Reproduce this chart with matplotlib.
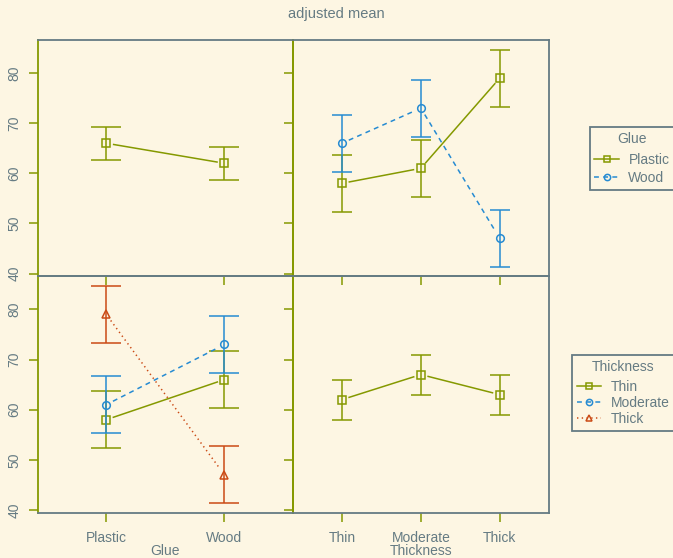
import matplotlib
matplotlib.use('Agg')
import matplotlib.pyplot as plt
import numpy as np
from matplotlib.lines import Line2D

# ---------------- data ----------------
glue = ['Plastic', 'Wood']
thickness = ['Thin', 'Moderate', 'Thick']
thickness_ticks = ['Thin', 'Moderate', 'Thick']

# main effects (adjusted means with interval)
glue_mean = [66, 62]
glue_lo = [62.7, 58.7]
glue_hi = [69.3, 65.3]

thick_mean = [62, 67, 63]
thick_lo = [58, 63, 59]
thick_hi = [66, 71, 67]

# cell means: rows = Glue (Plastic, Wood), cols = Thickness (Thin, Moderate, Thick)
cell_mean = [[58, 61, 79], [66, 73, 47]]
cell_lo = [[52.3, 55.3, 73.3], [60.3, 67.3, 41.3]]
cell_hi = [[63.7, 66.7, 84.7], [71.7, 78.7, 52.7]]

y_ticks = [40, 50, 60, 70, 80]

# ---------------- style ----------------
BG = '#FDF6E3'
TXT = '#657B83'
GRAY = '#657B83'
OLIVE = '#859900'
BLUE = '#268BD2'
ORANGE = '#CB4B16'
colors = [OLIVE, BLUE, ORANGE]
markers = ['s', 'o', '^']
dashes = ['-', (0, (3.2, 2.8)), (0, (0.9, 2.2))]
LW = 1.1
GAP = 7.5  # px gap between marker and connecting line

plt.rcParams['font.family'] = ['Liberation Sans', 'DejaVu Sans']
plt.rcParams['font.size'] = 10

W, H = 673, 558
fig = plt.figure(figsize=(W / 100, H / 100), dpi=100, facecolor=BG)

def rect(x0, y0, x1, y1):
    return [x0 / W, 1 - y1 / H, (x1 - x0) / W, (y1 - y0) / H]

XL, XM, XR = 37.7, 293, 548.7
YT, YM, YB = 40, 276.3, 512.7
YLIM = (39.45, 86.6)

ax_tl = fig.add_axes(rect(XL, YT, XM, YM))
ax_tr = fig.add_axes(rect(XM, YT, XR, YM))
ax_bl = fig.add_axes(rect(XL, YM, XM, YB))
ax_br = fig.add_axes(rect(XM, YM, XR, YB))

def setup(ax, n, left, bottom):
    ax.patch.set_visible(False)
    ax.set_autoscale_on(False)
    x = np.arange(1, n + 1)
    pad = 0.58 if n == 2 else 0.62
    ax.set_xlim(1 - pad, n + pad)
    ax.set_ylim(*YLIM)
    ax.set_xticks(x)
    ax.set_yticks(y_ticks)
    ax.tick_params(direction='out', length=6.5, width=LW, color=OLIVE,
                   labelcolor=TXT, labelsize=10)
    ax.tick_params(axis='y', pad=5)
    ax.tick_params(axis='x', pad=7)
    for s in ['top', 'bottom']:
        ax.spines[s].set_color(GRAY)
        ax.spines[s].set_linewidth(1.3)
    ax.spines['left'].set_color(OLIVE)
    ax.spines['left'].set_linewidth(1.3)
    ax.spines['right'].set_color(OLIVE if left else GRAY)
    ax.spines['right'].set_linewidth(1.3)
    if left:
        ax.set_yticklabels([str(v) for v in y_ticks])
        for lab in ax.get_yticklabels():
            lab.set_rotation(90)
            lab.set_va('center')
    else:
        ax.set_yticklabels([])
    if not bottom:
        ax.set_xticklabels([])

setup(ax_tl, 2, True, False)
setup(ax_tr, 3, False, False)
setup(ax_bl, 2, True, True)
setup(ax_br, 3, False, True)

ax_bl.set_xticklabels(glue)
ax_br.set_xticklabels(thickness_ticks)
ax_bl.set_xlabel('Glue', color=TXT, fontsize=10, labelpad=-1)
ax_br.set_xlabel('Thickness', color=TXT, fontsize=10, labelpad=-1)


def draw_series(ax, ys, lo, hi, color, marker, ls, capsize):
    ys = np.asarray(ys, float)
    lo = np.asarray(lo, float)
    hi = np.asarray(hi, float)
    xs = np.arange(1, len(ys) + 1, dtype=float)
    ax.errorbar(xs, ys, yerr=[ys - lo, hi - ys], fmt='none', ecolor=color,
                elinewidth=LW, capsize=capsize, capthick=LW)
    ax.plot(xs, ys, ls='none', marker=marker, mfc='none', mec=color,
            ms=5.5, mew=LW)
    pts = ax.transData.transform(np.column_stack([xs, ys]))
    inv = ax.transData.inverted()
    for i in range(len(pts) - 1):
        p0, p1 = pts[i], pts[i + 1]
        d = p1 - p0
        u = d / np.hypot(*d)
        seg = inv.transform([p0 + u * GAP, p1 - u * GAP])
        ax.plot(seg[:, 0], seg[:, 1], color=color, lw=LW, ls=ls)

CAP_L = 10.8
CAP_R = 7.2

# top-left: Glue main effect
draw_series(ax_tl, glue_mean, glue_lo, glue_hi, OLIVE, 's', '-', CAP_L)
# bottom-right: Thickness main effect
draw_series(ax_br, thick_mean, thick_lo, thick_hi, OLIVE, 's', '-', CAP_R)
# top-right: x = Thickness, trace = Glue
for g in range(len(glue)):
    draw_series(ax_tr, cell_mean[g], cell_lo[g], cell_hi[g],
                colors[g], markers[g], dashes[g], CAP_R)
# bottom-left: x = Glue, trace = Thickness
for t in range(len(thickness)):
    draw_series(ax_bl, [cell_mean[g][t] for g in range(len(glue))],
                [cell_lo[g][t] for g in range(len(glue))],
                [cell_hi[g][t] for g in range(len(glue))],
                colors[t], markers[t], dashes[t], CAP_L)

fig.text(336 / W, 1 - 14 / H, 'adjusted mean', ha='center', va='center',
         color=TXT, fontsize=10.5)

def make_legend(labels, title, x0, yc, spacing, title_sep):
    handles = [Line2D([], [], color=colors[i], ls=dashes[i], marker=markers[i],
                      mfc='none', mec=colors[i], ms=4.5, mew=LW, lw=LW)
               for i in range(len(labels))]
    leg = fig.legend(handles, labels, title=title, loc='center left',
                     bbox_to_anchor=(x0 / W, 1 - yc / H), frameon=True,
                     fancybox=False, edgecolor=GRAY, facecolor=BG,
                     framealpha=1, fontsize=10, title_fontsize=10,
                     handlelength=1.75, handletextpad=0.7, labelspacing=spacing,
                     borderpad=0.35, numpoints=1, borderaxespad=0)
    try:
        leg._legend_box.sep = title_sep
    except Exception:
        pass
    leg.get_frame().set_linewidth(1.3)
    leg.get_title().set_color(TXT)
    for t in leg.get_texts():
        t.set_color(TXT)
    return leg

make_legend(glue, 'Glue', 589.5, 158.5, 0.3, 4.5)
make_legend(thickness, 'Thickness', 572, 393, 0.14, 4.5)

fig.savefig('out.png', dpi=100, facecolor=BG)
